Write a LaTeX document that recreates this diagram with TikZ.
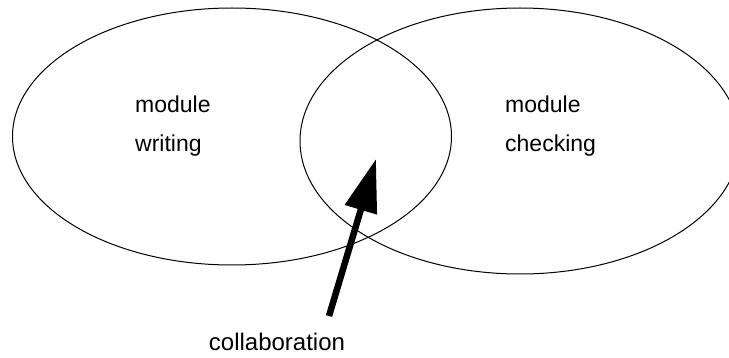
\documentclass[tikz,border=0pt]{standalone}
\usepackage{fontspec}
\setmainfont{Liberation Sans}
\usepackage{tikz}
\usetikzlibrary{arrows.meta,shapes.geometric}
\definecolor{inkmain}{HTML}{000000}
\tikzset{
  every node/.append style={font=\fontsize{23}{39}\selectfont},
  areaoval/.style={ellipse,draw=inkmain,line width=1pt,inner sep=0pt},
  arealabel/.style={align=left,anchor=base west,inner sep=0pt},
}

\begin{document}
\begin{tikzpicture}[x=1pt,y=-1pt]
  \useasboundingbox (0,0) rectangle (729,358);
  \clip (0,0) rectangle (729,358);
  \node[areaoval,minimum width=439pt,minimum height=257pt] (writing) at (232,136.5) {};
  \node[areaoval,minimum width=440pt,minimum height=266pt] (checking) at (520,141) {};
  \node[arealabel] (writinglabel) at (135,152) {module\\writing};
  \node[arealabel] (checkinglabel) at (505,152) {module\\checking};
  \node[anchor=base,inner sep=0pt,font=\fontsize{24}{28}\selectfont] (collab) at (277,351) {collaboration};
  \coordinate (overlap) at (376,159);
  \coordinate (tail) at (329,316);
  \draw[-{Triangle[length=53pt,width=32pt]},inkmain,line width=6.5pt] (tail) -- (overlap);
\end{tikzpicture}
\end{document}
